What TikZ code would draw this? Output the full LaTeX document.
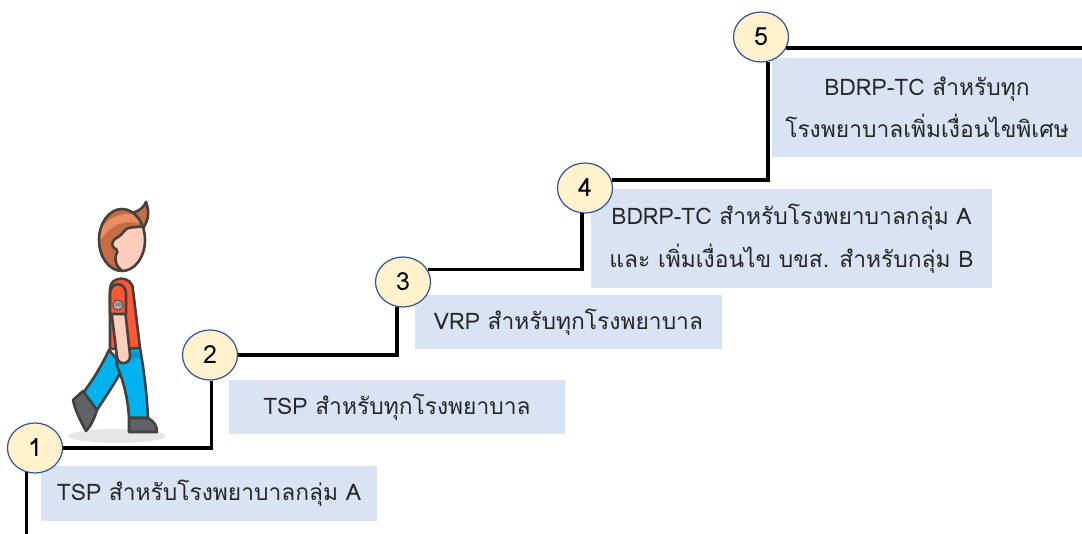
\documentclass[tikz,border=0pt]{standalone}
\usepackage{fontspec}
\newfontfamily\thaifont[Script=Thai]{Loma}
\usetikzlibrary{shapes.geometric}

\definecolor{boxblue}{RGB}{218,227,243}
\definecolor{numfill}{RGB}{255,242,204}
\definecolor{ringblue}{RGB}{47,85,151}
\definecolor{textgray}{RGB}{38,38,38}
\definecolor{inkline}{RGB}{69,64,60}
\definecolor{hair}{RGB}{196,108,70}
\definecolor{hairlight}{RGB}{232,142,98}
\definecolor{skin}{RGB}{255,205,188}
\definecolor{shirt}{RGB}{255,88,52}
\definecolor{pants}{RGB}{0,178,240}
\definecolor{belt}{RGB}{0,155,215}
\definecolor{shoe}{RGB}{95,98,102}
\definecolor{shadowgray}{RGB}{230,230,230}
\definecolor{badge}{RGB}{172,176,192}

\begin{document}
\begin{tikzpicture}[x=1pt,y=-1pt,
    stepnum/.style={ellipse, draw=ringblue, line width=1.2pt, fill=numfill,
      minimum width=55pt, minimum height=50pt, inner sep=0pt,
      font=\thaifont\fontsize{25}{25}\selectfont},
    infobox/.style={rectangle, fill=boxblue, inner sep=0pt, align=center,
      text=textgray, font=\thaifont\fontsize{22.8}{42.5}\selectfont},
    stair/.style={line width=3.5pt},
    outline/.style={draw=inkline, line width=2.6pt, line join=round}]
  \useasboundingbox (0,0) rectangle (1082,534);

  % text boxes
  \node[infobox, minimum width=336pt, minimum height=55pt] (b1) at (209,493.5) {TSP สำหรับโรงพยาบาลกลุ่ม A};
  \node[infobox, minimum width=336pt, minimum height=54pt] (b2) at (397,407) {TSP สำหรับทุกโรงพยาบาล};
  \node[infobox, minimum width=307pt, minimum height=54pt] (b3) at (568.5,322) {VRP สำหรับทุกโรงพยาบาล};
  \node[infobox, minimum width=401pt, minimum height=99pt] (b4) at (791.5,238.5) {BDRP-TC สำหรับโรงพยาบาลกลุ่ม A\\และ เพิ่มเงื่อนไข บขส. สำหรับกลุ่ม B};
  \node[infobox, minimum width=310pt, minimum height=99pt] (b5) at (927,107.5) {BDRP-TC สำหรับทุก\\โรงพยาบาลเพิ่มเงื่อนไขพิเศษ};

  % numbered steps
  \node[stepnum] (s1) at (35,448) {1};
  \node[stepnum] (s2) at (210,355) {2};
  \node[stepnum] (s3) at (403,282) {3};
  \node[stepnum] (s4) at (585,188) {4};
  \node[stepnum] (s5) at (761,37) {5};

  % the stairs
  \coordinate (floor) at (27,534);
  \coordinate (edge) at (1082,48);
  \draw[stair] (s1.251) -- (s1.251 |- floor);
  \draw[stair] (s1.east) -| (s2.273);
  \draw[stair] (s2.east) -| (s3.256);
  \draw[stair] (s3.27) -| (s4.263);
  \draw[stair] (s4.17) -| (s5.286);
  \draw[stair] (s5.-23) -- (s5.-23 -| edge);

  % walking man
  \fill[shadowgray] (117,436) ellipse [x radius=49, y radius=7];
  \draw[outline, fill=pants] (109,350) -- (124,367) .. controls (114,384) and (105,398) .. (97,410)
    -- (83,393) .. controls (93,380) and (102,365) .. cycle;
  \draw[outline, fill=shoe] (83,391) -- (97,410) .. controls (94,420) and (90,427) .. (86,431)
    .. controls (80,420) and (75,410) .. (73,400) -- cycle;
  \draw[outline, fill=pants] (117,349) -- (140,348) .. controls (144,370) and (147,395) .. (148,418)
    -- (129,418) .. controls (128,400) and (124,382) .. (117,366) -- cycle;
  \fill[belt] (119,352) -- (139,351) -- (140,358) -- (121,360) -- cycle;
  \draw[outline, fill=shoe] (129,418) -- (148,418) .. controls (154,421) and (157,426) .. (157,432)
    -- (129,432) -- cycle;
  \draw[outline, fill=shirt] (110,349) -- (110,289) .. controls (110,275) and (133,275) .. (133,290)
    -- (140,348) -- cycle;
  \draw[outline, fill=skin] (110,300) -- (124,300) -- (130,355) .. controls (131,365) and (118,366) .. (117,357) -- cycle;
  \draw[outline, fill=shirt] (110,314) -- (110,294) .. controls (110,281) and (126,281) .. (126,294) -- (126,314) -- cycle;
  \node[circle, fill=badge, draw=inkline, line width=0.8pt, inner sep=0pt, minimum size=10pt,
    font=\sffamily\bfseries\fontsize{5}{5}\selectfont, text=inkline] (tag) at (118,305) {10};
  \draw[outline, fill=hair] (128,214) .. controls (138,212) and (144,208) .. (146,202)
    .. controls (150,212) and (148,222) .. (143,228) -- cycle;
  \begin{scope}
    \clip (122,240) ellipse [x radius=23, y radius=31];
    \fill[hair] (98,205) rectangle (146,272);
    \fill[hairlight] (99,232) .. controls (108,214) and (128,210) .. (146,218) -- (146,225)
      .. controls (128,219) and (112,222) .. (101,240) -- cycle;
    \fill[skin] (146,226) -- (127,228) -- (120,236) -- (113,240) -- (112,247) -- (118,250)
      -- (115,258) -- (117,266) -- (124,273) -- (146,273) -- cycle;
    \draw[outline, rounded corners=2pt] (146,226) -- (127,228) -- (120,236) -- (113,240) -- (112,247)
      -- (118,250) -- (115,258) -- (117,266) -- (124,273);
  \end{scope}
  \draw[outline] (122,240) ellipse [x radius=23, y radius=31];
\end{tikzpicture}
\end{document}
